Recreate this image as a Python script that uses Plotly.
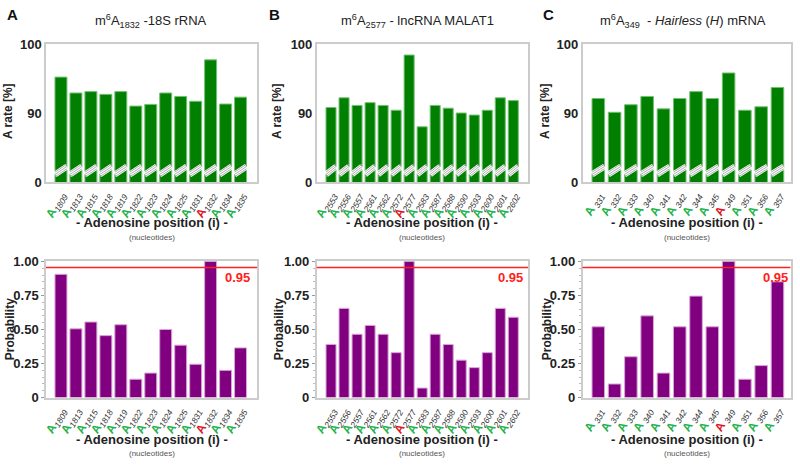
import plotly.graph_objects as go

# ---------------- data ----------------
cats_a = ['1809', '1813', '1815', '1818', '1819', '1822', '1823', '1824', '1825', '1831', '1832', '1834', '1835']
rate_a = [95.2, 92.9, 93.1, 92.7, 93.1, 91.0, 91.25, 92.9, 92.4, 91.7, 97.7, 91.3, 92.3]
prob_a = [0.905, 0.505, 0.555, 0.455, 0.535, 0.135, 0.18, 0.50, 0.385, 0.245, 1.0, 0.20, 0.365]
mod_a = '1832'

cats_b = ['2553', '2556', '2557', '2561', '2562', '2572', '2577', '2583', '2587', '2588', '2590', '2593', '2600', '2601', '2602']
rate_b = [90.8, 92.2, 91.1, 91.5, 91.1, 90.4, 98.4, 88.0, 91.1, 90.7, 90.0, 89.7, 90.4, 92.2, 91.8]
prob_b = [0.39, 0.655, 0.465, 0.53, 0.465, 0.33, 1.0, 0.07, 0.465, 0.39, 0.275, 0.22, 0.33, 0.655, 0.59]
mod_b = '2577'

cats_c = ['331', '332', '333', '340', '341', '342', '344', '345', '349', '351', '356', '357']
rate_c = [92.1, 90.1, 91.2, 92.4, 90.6, 92.1, 93.1, 92.1, 95.8, 90.4, 90.9, 93.7]
prob_c = [0.52, 0.10, 0.30, 0.60, 0.18, 0.52, 0.745, 0.52, 1.0, 0.135, 0.235, 0.85]
mod_c = '349'

rate_ticks = [80, 90, 100]
rate_ticktext = ['0', '90', '100']
prob_ticks = [0, 0.25, 0.5, 0.75, 1.0]
prob_ticktext = ['0', '0.25', '0.50', '0.75', '1.00']
threshold = 0.955
threshold_label = '0.95'

titles = ['m<sup>6</sup>A<sub>1832</sub> -18S rRNA',
          'm<sup>6</sup>A<sub>2577</sub> - lncRNA MALAT1',
          'm<sup>6</sup>A<sub>349</sub>  - <i>Hairless</i> (<i>H</i>) mRNA']
letters = ['A', 'B', 'C']

# ---------------- style / layout ----------------
W, H = 800, 470
FONT = 'Liberation Sans, Arial, sans-serif'
GREEN = '#007f00'
GREEN_EDGE = '#74c074'
PURPLE = '#800080'
PURPLE_EDGE = '#d7a6d7'
FRAME = '#cccccc'
A_GREEN = '#22b34a'
A_RED = '#e0141e'

panels = [
    dict(cats=cats_a, rate=rate_a, prob=prob_a, mod=mod_a, x0=46, x1=257, rng=[-1.0, 13.1], w=0.8,
         sub=True, lab_x=0.975, title_x=151, letter_x=12, ytitle_x=8),
    dict(cats=cats_b, rate=rate_b, prob=prob_b, mod=mod_b, x0=316.7, x1=528, rng=[-1.1, 15.13], w=0.77,
         sub=True, lab_x=0.985, title_x=417, letter_x=274, ytitle_x=277),
    dict(cats=cats_c, rate=rate_c, prob=prob_c, mod=mod_c, x0=582.5, x1=790.5, rng=[-0.97, 11.8], w=0.77,
         sub=False, lab_x=0.998, title_x=683, letter_x=548, ytitle_x=545),
]
top_px = (44, 182)
bot_px = (260.7, 397.6)


def ydom(p):
    return [1 - p[1] / H, 1 - p[0] / H]


def tick_label(c, mod, sub):
    col = A_RED if c == mod else A_GREEN
    num = '<sub><i>%s</i></sub>' % c if sub else '<sub><i> %s</i></sub>' % c
    return "<span style='color:%s'><b>A</b></span>%s" % (col, num)


fig = go.Figure()
shapes = []
annotations = []

for k, p in enumerate(panels):
    xt = 'x%d' % (k + 1)
    yt = 'y%d' % (k + 1)
    xb = 'x%d' % (k + 4)
    yb = 'y%d' % (k + 4)
    fig.add_trace(go.Bar(x=p['cats'], y=p['rate'], xaxis=xt, yaxis=yt, width=p['w'],
                         marker=dict(color=GREEN, line=dict(color=GREEN_EDGE, width=1))))
    fig.add_trace(go.Bar(x=p['cats'], y=p['prob'], xaxis=xb, yaxis=yb, width=p['w'],
                         marker=dict(color=PURPLE, line=dict(color=PURPLE_EDGE, width=1))))
    xdom = [p['x0'] / W, p['x1'] / W]
    ticktext = [tick_label(c, p['mod'], p['sub']) for c in p['cats']]
    xcommon = dict(domain=xdom, type='category', range=p['rng'], tickvals=p['cats'], ticktext=ticktext,
                   tickangle=-60, tickfont=dict(family=FONT, size=12, color='#333'), automargin=False,
                   showline=True, mirror=True, linecolor=FRAME, linewidth=1.5, ticks='', showgrid=False)
    fig.layout['xaxis%d' % (k + 1)] = dict(xcommon, anchor=yt)
    fig.layout['xaxis%d' % (k + 4)] = dict(xcommon, anchor=yb)
    fig.layout['yaxis%d' % (k + 1)] = dict(domain=ydom(top_px), anchor=xt, range=[80, 100], automargin=False,
                                           tickvals=rate_ticks, ticktext=rate_ticktext,
                                           tickfont=dict(family=FONT, size=13, color='#222', weight='bold'),
                                           showline=True, mirror=True, linecolor=FRAME, linewidth=1.5,
                                           showgrid=False, ticks='', zeroline=False)
    fig.layout['yaxis%d' % (k + 4)] = dict(domain=ydom(bot_px), anchor=xb, range=[0, 1.005], automargin=False,
                                           tickvals=prob_ticks, ticktext=prob_ticktext,
                                           tickfont=dict(family=FONT, size=13, color='#222', weight='bold'),
                                           showline=True, mirror=True, linecolor=FRAME, linewidth=1.5,
                                           showgrid=False, ticks='outside', ticklen=3, tickcolor='#999',
                                           minor=dict(dtick=0.05, ticks='outside', ticklen=2, tickcolor='#bbb'),
                                           zeroline=False)
    # axis-break marks on the top bars
    hw = p['w'] / 2
    for i in range(len(p['cats'])):
        shapes.append(dict(type='line', xref=xt, yref=yt, x0=i - hw, x1=i + hw, y0=81.1, y1=82.25,
                           line=dict(color='white', width=6), layer='above'))
        for off in (-0.33, 0.0, 0.33):
            shapes.append(dict(type='line', xref=xt, yref=yt, x0=i - hw, x1=i + hw,
                               y0=81.1 + off, y1=82.25 + off,
                               line=dict(color='#9a9a9a', width=0.8), layer='above'))
    # threshold line
    shapes.append(dict(type='line', xref=xb + ' domain', yref=yb, x0=0, x1=1, y0=threshold, y1=threshold,
                       line=dict(color='#ff2020', width=1.5), layer='above'))
    annotations.append(dict(xref=xb + ' domain', yref=yb, x=p['lab_x'], y=threshold - 0.004, xanchor='right',
                            yanchor='top', showarrow=False, text='<b>%s</b>' % threshold_label,
                            font=dict(family=FONT, size=13, color='#ff2020')))

    cx = (p['x0'] + p['x1']) / 2 / W
    # titles and panel letters
    annotations.append(dict(xref='paper', yref='paper', x=p['title_x'] / W, y=1 - 21 / H,
                            xanchor='center', yanchor='middle', showarrow=False, text=titles[k],
                            font=dict(family=FONT, size=13, color='#222')))
    annotations.append(dict(xref='paper', yref='paper', x=p['letter_x'] / W, y=1 - 14 / H,
                            xanchor='center', yanchor='middle', showarrow=False, text='<b>%s</b>' % letters[k],
                            font=dict(family=FONT, size=15, color='#111')))
    # x-axis titles
    for ty, ny in ((223, 237), (439, 453)):
        annotations.append(dict(xref='paper', yref='paper', x=cx, y=1 - ty / H, xanchor='center',
                                yanchor='middle', showarrow=False, text='<b>- Adenosine position (i) -</b>',
                                font=dict(family=FONT, size=13, color='#222')))
        annotations.append(dict(xref='paper', yref='paper', x=cx, y=1 - ny / H, xanchor='center',
                                yanchor='middle', showarrow=False, text='(nucleotides)',
                                font=dict(family=FONT, size=8, color='#555')))
    # y-axis titles
    yx = p['ytitle_x'] / W
    annotations.append(dict(xref='paper', yref='paper', x=yx, y=1 - 111 / H, xanchor='center',
                            yanchor='middle', showarrow=False, textangle=-90, text='<b>A rate [%]</b>',
                            font=dict(family=FONT, size=12, color='#222')))
    annotations.append(dict(xref='paper', yref='paper', x=yx + 2 / W, y=1 - (sum(bot_px) / 2) / H,
                            xanchor='center', yanchor='middle', showarrow=False, textangle=-90,
                            text='<b>Probability</b>', font=dict(family=FONT, size=12, color='#222')))

fig.update_layout(width=W, height=H, margin=dict(l=0, r=0, t=0, b=0, autoexpand=False), plot_bgcolor='white',
                  paper_bgcolor='white', showlegend=False, shapes=shapes, annotations=annotations,
                  font=dict(family=FONT, color='#222'))

fig.write_html('out.html', config={'displayModeBar': False},
               post_script="document.body.style.margin='0';document.body.style.overflow='hidden';")
